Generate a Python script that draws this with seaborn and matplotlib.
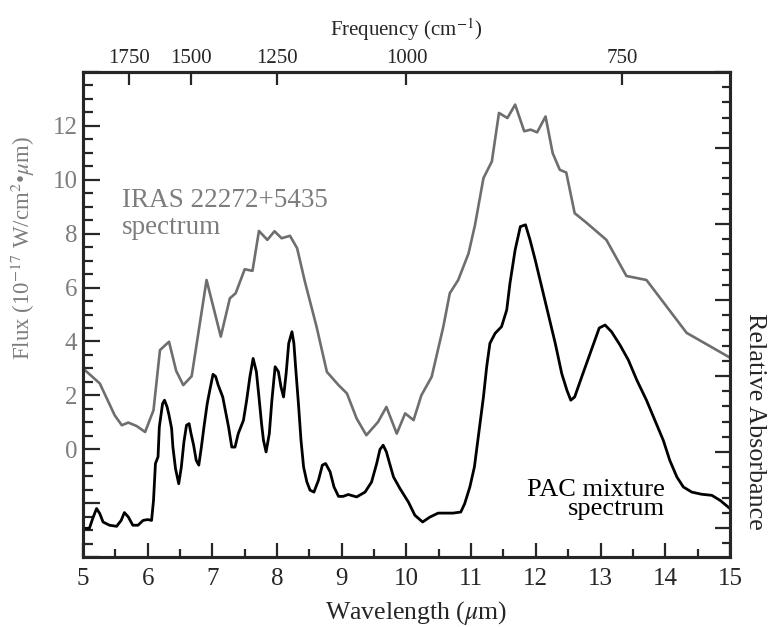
import numpy as np
import matplotlib
matplotlib.use("Agg")
import matplotlib.pyplot as plt
from matplotlib.ticker import MultipleLocator, NullLocator, FixedLocator, NullFormatter
import seaborn as sns

# ---- data ----
iras_wl = [5.00, 5.26, 5.49, 5.60, 5.70, 5.83, 5.96, 6.09, 6.19, 6.33, 6.44, 6.55, 6.68,
           6.91, 7.13, 7.27, 7.36, 7.50, 7.62, 7.72, 7.85, 7.96, 8.07, 8.20, 8.31, 8.43,
           8.61, 8.77, 8.95, 9.08, 9.23, 9.38, 9.56, 9.69, 9.85, 9.98, 10.11, 10.23, 10.39,
           10.57, 10.67, 10.80, 10.96, 11.06, 11.19, 11.32, 11.43, 11.56, 11.68, 11.82,
           11.92, 12.02, 12.15, 12.26, 12.37, 12.47, 12.60, 12.78, 13.09, 13.40, 13.71,
           14.33, 15.00]
iras_flux = [3.00, 2.44, 1.26, 0.89, 0.99, 0.86, 0.64, 1.45, 3.68, 3.99, 2.91, 2.38, 2.71,
             6.28, 4.18, 5.60, 5.79, 6.68, 6.62, 8.10, 7.77, 8.09, 7.83, 7.92, 7.46, 6.22,
             4.55, 2.87, 2.38, 2.07, 1.14, 0.52, 1.01, 1.57, 0.58, 1.33, 1.08, 2.00, 2.69,
             4.55, 5.79, 6.28, 7.27, 8.33, 10.06, 10.68, 12.48, 12.29, 12.79, 11.80,
             11.86, 11.76, 12.35, 10.99, 10.37, 10.27, 8.76, 8.41, 7.77, 6.43, 6.28,
             4.32, 3.40]

pac_wl = [5.00, 5.10, 5.15, 5.21, 5.26, 5.31, 5.41, 5.52, 5.59, 5.64, 5.70, 5.77, 5.85,
          5.93, 6.00, 6.06, 6.09, 6.12, 6.16, 6.18, 6.23, 6.26, 6.30, 6.33, 6.37, 6.39,
          6.43, 6.48, 6.52, 6.56, 6.60, 6.64, 6.67, 6.71, 6.75, 6.79, 6.83, 6.87, 6.92,
          6.96, 7.01, 7.05, 7.09, 7.16, 7.21, 7.25, 7.30, 7.35, 7.40, 7.48, 7.53, 7.58,
          7.63, 7.68, 7.72, 7.76, 7.79, 7.83, 7.88, 7.92, 7.97, 8.02, 8.06, 8.10, 8.14,
          8.18, 8.23, 8.26, 8.29, 8.33, 8.37, 8.41, 8.46, 8.51, 8.57, 8.64, 8.70, 8.75,
          8.82, 8.88, 8.95, 9.02, 9.10, 9.23, 9.36, 9.46, 9.54, 9.59, 9.64, 9.69, 9.74,
          9.80, 9.90, 10.03, 10.13, 10.25, 10.36, 10.49, 10.72, 10.84, 10.90, 10.98,
          11.05, 11.11, 11.19, 11.24, 11.29, 11.37, 11.47, 11.55, 11.60, 11.68, 11.76,
          11.84, 11.91, 11.99, 12.09, 12.19, 12.30, 12.40, 12.48, 12.54, 12.60, 12.71,
          12.84, 12.98, 13.07, 13.17, 13.30, 13.43, 13.56, 13.71, 13.84, 13.97, 14.07,
          14.18, 14.28, 14.41, 14.56, 14.72, 14.85, 15.00]
pac_abs = [-2.94, -2.93, -2.57, -2.20, -2.39, -2.70, -2.82, -2.86, -2.64, -2.35, -2.51,
           -2.82, -2.82, -2.64, -2.61, -2.64, -1.90, -0.53, -0.28, 0.83, 1.69, 1.82, 1.57,
           1.26, 0.77, 0.08, -0.72, -1.28, -0.66, 0.27, 0.89, 0.95, 0.58, 0.15, -0.41,
           -0.59, 0.08, 0.83, 1.69, 2.19, 2.78, 2.70, 2.38, 1.94, 1.33, 0.83, 0.08, 0.08,
           0.58, 1.07, 1.82, 2.69, 3.37, 2.88, 1.94, 0.95, 0.33, -0.10, 0.58, 1.82, 3.06,
           2.88, 2.32, 1.94, 2.81, 3.93, 4.36, 3.93, 2.94, 1.70, 0.33, -0.66, -1.21, -1.52,
           -1.59, -1.15, -0.59, -0.53, -0.84, -1.40, -1.75, -1.75, -1.68, -1.77, -1.59,
           -1.22, -0.53, -0.01, 0.15, -0.10, -0.53, -1.03, -1.46, -1.96, -2.45, -2.70,
           -2.52, -2.37, -2.37, -2.33, -2.02, -1.40, -0.66, 0.46, 1.94, 3.06, 3.93, 4.30,
           4.55, 5.17, 6.16, 7.40, 8.26, 8.33, 7.77, 7.03, 6.03, 5.04, 3.93, 2.81, 2.19,
           1.82, 1.94, 2.69, 3.56, 4.50, 4.61, 4.36, 3.87, 3.31, 2.57, 1.82, 1.08, 0.33,
           -0.41, -1.03, -1.40, -1.59, -1.67, -1.71, -1.90, -2.20]

x_ticks = [5, 6, 7, 8, 9, 10, 11, 12, 13, 14, 15]
flux_ticks = [0, 2, 4, 6, 8, 10, 12]
freq_ticks = [1750, 1500, 1250, 1000, 750]

# ---- style ----
sns.set_theme(style="ticks")
plt.rcParams["font.family"] = ["Liberation Serif", "DejaVu Serif"]
plt.rcParams["mathtext.fontset"] = "stix"

GRAY = "#6e6e6e"
TXTGRAY = "#7d7d7d"

fig = plt.figure(figsize=(7.72, 6.27), dpi=100)
ax = fig.add_axes([0.1075, 0.1116, 0.838, 0.7736])

sns.lineplot(x=iras_wl, y=iras_flux, ax=ax, color=GRAY, lw=1.9, sort=False, estimator=None)
sns.lineplot(x=pac_wl, y=pac_abs, ax=ax, color="black", lw=2.0, sort=False, estimator=None)

ax.set_xlim(5, 15)
ax.set_ylim(-4, 14)

# bottom axis
ax.xaxis.set_major_locator(FixedLocator(x_ticks))
ax.xaxis.set_minor_locator(MultipleLocator(0.5))
ax.tick_params(axis="x", which="major", direction="in", length=10, width=1.6,
               labelsize=18, pad=8, top=False)
ax.tick_params(axis="x", which="minor", direction="in", length=5.5, width=1.6, top=False)

# left axis
ax.yaxis.set_minor_locator(MultipleLocator(0.5))
ax.set_yticks([-4, -2] + flux_ticks + [14])
ax.set_yticklabels(["", ""] + [str(t) for t in flux_ticks] + [""])
ax.tick_params(axis="y", which="major", direction="in", length=12.5, width=1.6,
               labelsize=18, pad=4, labelcolor=TXTGRAY, right=False)
ax.tick_params(axis="y", which="minor", direction="in", length=7.5, width=1.6, right=False)

for s in ax.spines.values():
    s.set_linewidth(2.2)
    s.set_color("black")

ax.set_xlabel("Wavelength ($\\mu$m)", fontsize=18.5)
ax.xaxis.set_label_coords(0.515, -0.086)
ax.set_ylabel("Flux (10$^{-17}$ W/cm$^{2}$\u2022$\\mu$m)", fontsize=16.5, color=TXTGRAY)
ax.yaxis.set_label_coords(-0.071, 0.637)

# right axis (relative absorbance, no labels)
axr = ax.twinx()
axr.set_ylim(-0.19, 3.0)
axr.yaxis.set_major_locator(MultipleLocator(0.5))
axr.yaxis.set_minor_locator(MultipleLocator(0.1))
axr.yaxis.set_major_formatter(NullFormatter())
axr.tick_params(axis="y", which="major", direction="in", length=11, width=1.6)
axr.tick_params(axis="y", which="minor", direction="in", length=5.5, width=1.6)
axr.set_ylabel("Relative Absorbance", fontsize=18.8, rotation=-90, va="center")
axr.yaxis.set_label_coords(1.038, 0.28)
for s in axr.spines.values():
    s.set_linewidth(2.2)

# top axis (frequency)
secax = ax.secondary_xaxis("top", functions=(lambda w: 1e4 / np.asarray(w, float),
                                             lambda f: 1e4 / np.asarray(f, float)))
secax.xaxis.set_major_locator(FixedLocator(freq_ticks))
secax.xaxis.set_minor_locator(NullLocator())
secax.tick_params(axis="x", which="major", direction="in", length=9, width=1.6,
                  labelsize=15, pad=3)
secax.set_xlabel("Frequency (cm$^{-1}$)", fontsize=15, labelpad=9.5)
secax.spines["top"].set_linewidth(2.2)

# annotations
ax.text(5.60, 9.0, "IRAS 22272+5435", fontsize=19.5, color=TXTGRAY, va="baseline", ha="left")
ax.text(5.60, 8.0, "spectrum", fontsize=19.5, color=TXTGRAY, va="baseline", ha="left")
ax.text(14.0, -2.45, "PAC mixture\nspectrum", fontsize=19, color="black",
        va="baseline", ha="right", multialignment="right", linespacing=0.82)

fig.savefig("out.png", dpi=100)
